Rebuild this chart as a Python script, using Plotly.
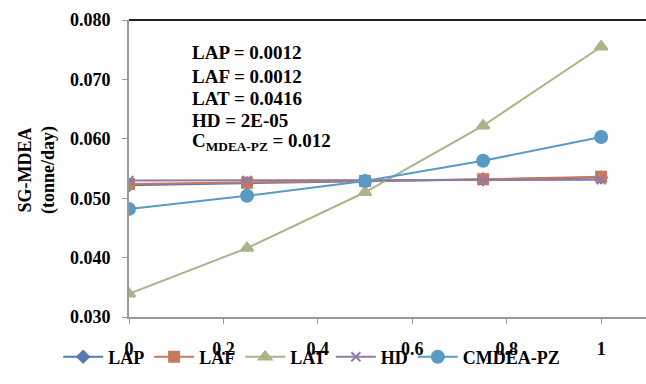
import plotly.graph_objects as go

x_vals = [0, 0.25, 0.5, 0.75, 1]
lap = [0.0522, 0.0525, 0.0529, 0.0532, 0.0535]
laf = [0.0524, 0.0526, 0.0529, 0.0532, 0.0536]
lat = [0.0339, 0.0416, 0.0510, 0.0622, 0.0755]
hd = [0.0530, 0.0530, 0.0530, 0.0530, 0.0531]
cmdea = [0.0482, 0.0504, 0.0529, 0.0563, 0.0603]

legend_names = ["LAP", "LAF", "LAT", "HD", "CMDEA-PZ"]
note_lines = ["LAP = 0.0012", "LAF = 0.0012", "LAT = 0.0416", "HD = 2E-05",
              "C<sub>MDEA-PZ</sub> = 0.012"]
x_ticks = [0, 0.2, 0.4, 0.6, 0.8, 1]
x_tick_text = ["0", "0.2", "0.4", "0.6", "0.8", "1"]
y_ticks = [0.03, 0.04, 0.05, 0.06, 0.07, 0.08]
y_tick_text = ["0.030", "0.040", "0.050", "0.060", "0.070", "0.080"]

styles = [
    ("#5878AE", "diamond", 9),
    ("#C57A5C", "square", 10),
    ("#A8B589", "triangle-up", 11),
    ("#8E7CA6", "x-thin-open", 9),
    ("#5A9BC4", "circle", 12),
]
data = [lap, laf, lat, hd, cmdea]

FONT = "Liberation Serif"
fig = go.Figure()
for ys, lname, (col, sym, sz) in zip(data, legend_names, styles):
    fig.add_trace(go.Scatter(
        x=x_vals, y=ys, name="<b>" + lname + "</b>", mode="lines+markers",
        line=dict(color=col, width=2),
        marker=dict(symbol=sym, size=sz, color=col, line=dict(color=col, width=2)),
    ))

note_y = [0.889, 0.811, 0.737, 0.663, 0.589]
for txt, yy in zip(note_lines, note_y):
    fig.add_annotation(
        xref="paper", yref="paper", x=0.118, y=yy, xanchor="left", yanchor="middle",
        align="left", showarrow=False, text="<b>" + txt + "</b>",
        font=dict(family=FONT, size=19, color="black"),
    )

fig.add_annotation(
    xref="paper", yref="paper", x=-0.178, y=0.495, xanchor="center", yanchor="middle",
    textangle=-90, showarrow=False, text="<b>SG-MDEA<br>(tonne/day)</b>",
    font=dict(family=FONT, size=18, color="black"),
)

fig.add_shape(type="line", xref="paper", yref="paper", x0=0, x1=1, y0=1, y1=1,
              line=dict(color="#222222", width=2))

fig.update_layout(
    width=646, height=384,
    margin=dict(l=129, r=0, t=20, b=67, autoexpand=False),
    paper_bgcolor="white", plot_bgcolor="white",
    font=dict(family=FONT, size=18, color="black"),
    showlegend=True,
    legend=dict(orientation="h", xref="container", yref="container",
                x=0.09, y=0.07, xanchor="left", yanchor="middle",
                bgcolor="rgba(0,0,0,0)",
                font=dict(family=FONT, size=18, color="black"),
                itemwidth=40, tracegroupgap=0),
    xaxis=dict(range=[0, 1.095], tickvals=x_ticks,
               ticktext=["<b>" + t + "</b>" for t in x_tick_text],
               showgrid=False, zeroline=False, showline=True, linecolor="#999999", linewidth=2,
               ticks="outside", ticklen=5, tickcolor="#999999", automargin=False,
               ticklabelstandoff=9,
               tickfont=dict(family=FONT, size=18, color="black")),
    yaxis=dict(range=[0.030, 0.080], tickvals=y_ticks,
               ticktext=["<b>" + t + "</b>" for t in y_tick_text],
               showgrid=False, zeroline=False, showline=True, linecolor="#999999", linewidth=2,
               ticks="outside", ticklen=5, tickcolor="#999999", automargin=False,
               ticklabelstandoff=8,
               tickfont=dict(family=FONT, size=18, color="black")),
)

fig.write_html("out.html", config={"displayModeBar": False},
               post_script="document.body.style.margin='0';")
